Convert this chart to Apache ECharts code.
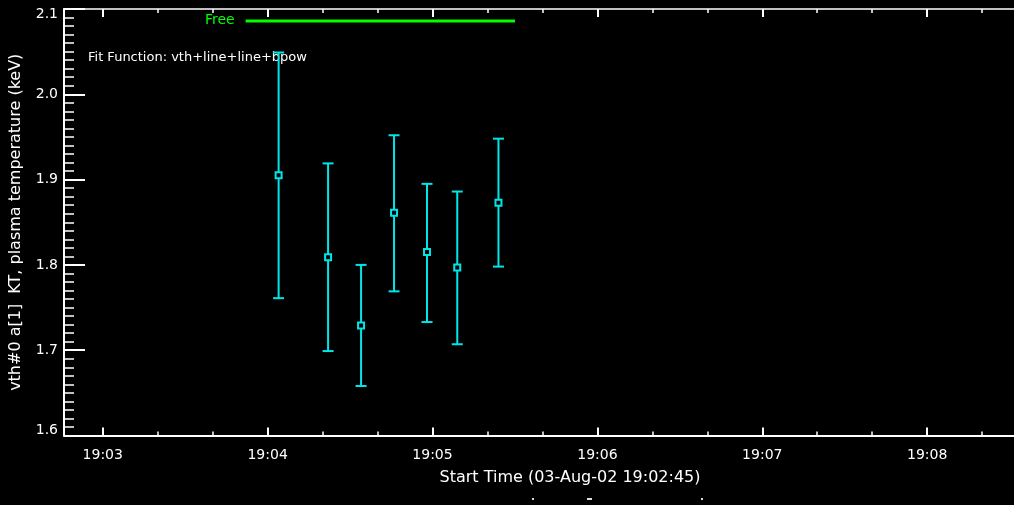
<!DOCTYPE html>
<html>
<head>
<meta charset="utf-8">
<script src="https://cdn.jsdelivr.net/npm/echarts@6/dist/echarts.min.js"></script>
<style>
  html, body { margin: 0; padding: 0; background: #000; }
  #chart { width: 1014px; height: 505px; }
</style>
</head>
<body>
<div id="chart"></div>
<script>
// ---- data (time in seconds after 19:00:00) ----
const times   = [244, 262, 274, 286, 298, 309, 324];
const kT      = [1.905, 1.809, 1.729, 1.861, 1.815, 1.797, 1.873];
const kTLow   = [1.761, 1.699, 1.658, 1.769, 1.733, 1.707, 1.798];
const kTHigh  = [2.049, 1.919, 1.800, 1.952, 1.895, 1.886, 1.948];

// "Free" interval bar
const freeTimes = [232, 330];
const freeLevel = 2.086;

// axes
const xMin = 165.9, xMax = 511.6;
const xTickSeconds = [180, 240, 300, 360, 420, 480];
const xTickLabels  = ['19:03', '19:04', '19:05', '19:06', '19:07', '19:08'];
const xMinorSeconds = [200, 220, 260, 280, 320, 340, 380, 400, 440, 460, 500];
const yMin = 1.6, yMax = 2.1;
const yTickValues = [1.6, 1.7, 1.8, 1.9, 2.0, 2.1];
const yTickLabels = ['1.6', '1.7', '1.8', '1.9', '2.0', '2.1'];

const yMinorValues = [];
for (let i = 1; i < 50; i++) {
  if (i % 10 !== 0) yMinorValues.push(+(yMin + i * 0.01).toFixed(2));
}

const CYAN = '#00e6e6';
const WHITE = '#ffffff';
const FONT = 'DejaVu Sans';

const errData = times.map((t, i) => [t, kTLow[i], kTHigh[i]]);
const ptData = times.map((t, i) => [t, kT[i]]);

const chart = echarts.init(document.getElementById('chart'), null, { renderer: 'canvas' });

function xAxisBase(extra) {
  return Object.assign({
    type: 'value', gridIndex: 0, min: xMin, max: xMax,
    splitLine: { show: false },
    axisLine: { show: false, onZero: false },
    axisLabel: { show: false },
    axisTick: { show: false }
  }, extra);
}
function yAxisBase(extra) {
  return Object.assign({
    type: 'value', gridIndex: 0, min: yMin, max: yMax,
    splitLine: { show: false },
    axisLine: { show: false, onZero: false },
    axisLabel: { show: false },
    axisTick: { show: false }
  }, extra);
}

const option = {
  backgroundColor: '#000000',
  animation: false,
  grid: { left: 64, top: 9, width: 950, height: 426.5, outerBoundsMode: 'none', containLabel: false },
  xAxis: [
    xAxisBase({
      position: 'bottom',
      axisLine: { show: true, onZero: false, lineStyle: { color: WHITE, width: 2 } },
      axisTick: { show: true, inside: true, length: 8, customValues: xTickSeconds, lineStyle: { color: WHITE, width: 2 } },
      axisLabel: {
        show: true, customValues: xTickSeconds, margin: 13,
        color: WHITE, fontFamily: FONT, fontSize: 14,
        formatter: v => xTickLabels[xTickSeconds.indexOf(v)]
      }
    }),
    xAxisBase({
      position: 'bottom',
      axisTick: { show: true, inside: true, length: 4, customValues: xMinorSeconds, lineStyle: { color: WHITE, width: 1.5 } }
    }),
    xAxisBase({
      position: 'top',
      axisLine: { show: true, onZero: false, lineStyle: { color: WHITE, width: 1.5 } },
      axisTick: { show: true, inside: true, length: 8, customValues: xTickSeconds, lineStyle: { color: WHITE, width: 2 } }
    }),
    xAxisBase({
      position: 'top',
      axisTick: { show: true, inside: true, length: 4, customValues: xMinorSeconds, lineStyle: { color: WHITE, width: 1.5 } }
    })
  ],
  yAxis: [
    yAxisBase({
      position: 'left',
      name: 'vth#0 a[1]  KT, plasma temperature (keV)',
      nameLocation: 'middle',
      nameGap: 40,
      nameTextStyle: { color: WHITE, fontFamily: FONT, fontSize: 16 },
      axisLine: { show: true, onZero: false, lineStyle: { color: WHITE, width: 2 } },
      axisTick: { show: true, inside: true, length: 21, customValues: yTickValues, lineStyle: { color: WHITE, width: 2 } },
      axisLabel: {
        show: true, customValues: yTickValues, margin: 6,
        color: WHITE, fontFamily: FONT, fontSize: 14, lineHeight: 11,
        verticalAlignMinLabel: 'bottom', verticalAlignMaxLabel: 'top',
        formatter: v => {
          const i = yTickValues.findIndex(t => Math.abs(t - v) < 1e-6);
          return i >= 0 ? yTickLabels[i] : '';
        }
      }
    }),
    yAxisBase({
      position: 'left',
      axisTick: { show: true, inside: true, length: 10, customValues: yMinorValues, lineStyle: { color: WHITE, width: 1.5 } }
    })
  ],
  graphic: [
    { type: 'text', left: 88, top: 51, style: { text: 'Fit Function: vth+line+line+bpow', fill: WHITE, font: '13px "DejaVu Sans"' } },
    { type: 'text', left: 205, top: 13, style: { text: 'Free', fill: '#00ff00', font: '14px "DejaVu Sans"' } },
    { type: 'text', x: 570, y: 478, style: { text: 'Start Time (03-Aug-02 19:02:45)', fill: WHITE, font: '16px "DejaVu Sans"', align: 'center', verticalAlign: 'middle' } },
    { type: 'rect', shape: { x: 532, y: 498, width: 2, height: 2 }, style: { fill: '#dddddd' } },
    { type: 'rect', shape: { x: 587, y: 498, width: 5, height: 2 }, style: { fill: '#dddddd' } },
    { type: 'rect', shape: { x: 701, y: 498, width: 2, height: 2 }, style: { fill: '#dddddd' } }
  ],
  series: [
    {
      type: 'line',
      xAxisIndex: 0, yAxisIndex: 0,
      data: freeTimes.map(t => [t, freeLevel]),
      symbol: 'none',
      lineStyle: { color: '#00ff00', width: 3 },
      silent: true
    },
    {
      type: 'custom',
      xAxisIndex: 0, yAxisIndex: 0,
      data: errData,
      renderItem: function (params, api) {
        const x = api.value(0);
        const lo = api.coord([x, api.value(1)]);
        const hi = api.coord([x, api.value(2)]);
        const hw = 5.5;
        const style = { stroke: CYAN, lineWidth: 2 };
        return {
          type: 'group',
          children: [
            { type: 'line', shape: { x1: lo[0], y1: lo[1], x2: hi[0], y2: hi[1] }, style: style },
            { type: 'line', shape: { x1: lo[0] - hw, y1: lo[1], x2: lo[0] + hw, y2: lo[1] }, style: style },
            { type: 'line', shape: { x1: hi[0] - hw, y1: hi[1], x2: hi[0] + hw, y2: hi[1] }, style: style }
          ]
        };
      }
    },
    {
      type: 'scatter',
      xAxisIndex: 0, yAxisIndex: 0,
      data: ptData,
      symbol: 'rect',
      symbolSize: 6,
      itemStyle: { color: '#000000', borderColor: CYAN, borderWidth: 2, opacity: 1 }
    }
  ]
};
chart.setOption(option);
</script>
</body>
</html>
